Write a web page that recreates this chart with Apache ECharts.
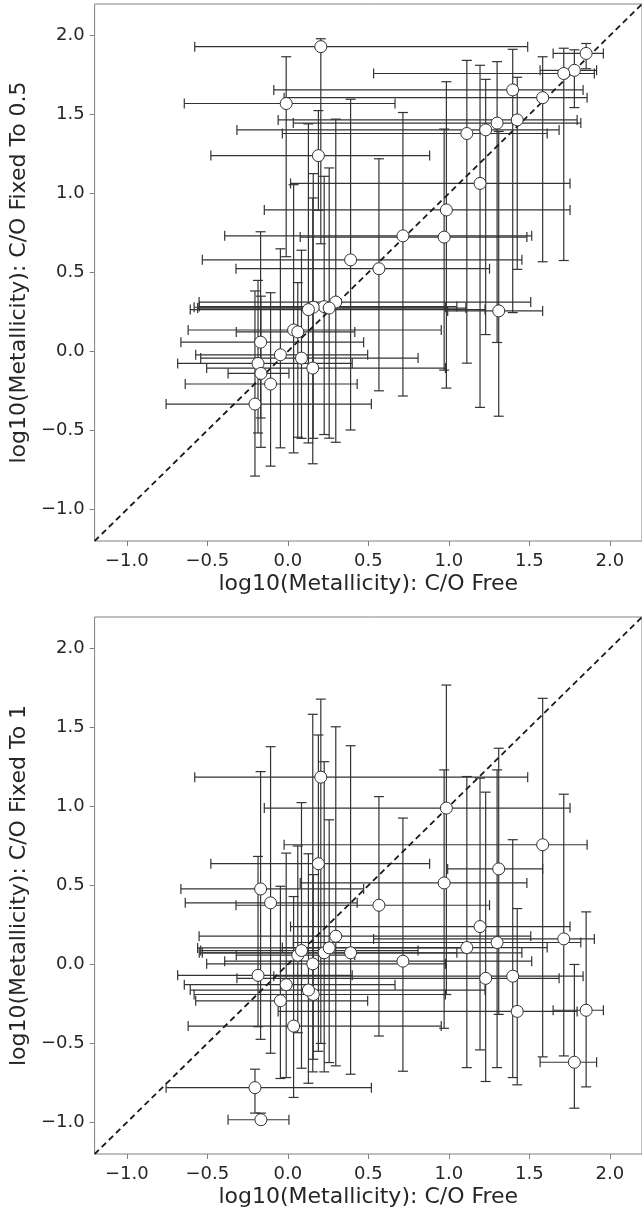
<!DOCTYPE html>
<html>
<head>
<meta charset="utf-8">
<script src="https://cdn.jsdelivr.net/npm/echarts@6/dist/echarts.min.js"></script>
<style>
  html, body { margin: 0; padding: 0; background: #ffffff; }
  #chart { width: 642px; height: 1216px; }
</style>
</head>
<body>
<div id="chart"></div>
<script>
// ---------- data ----------
// x: log10(Metallicity) with C/O free, with lower / upper ends of the error bar
const xFree   = [0.205, -0.01, 0.19, 0.39, 1.853, 1.78, 1.714, 1.397, 1.583, 1.425, 1.30, 1.229, 1.112, 1.194, 0.985, 0.715, 0.971, 0.566, 0.298, 0.226, 0.257, 0.158, 0.128, 0.036, 0.062, -0.169, -0.046, 0.085, -0.185, 0.155, -0.167, -0.107, -0.204, 1.31];
const xFreeLo = [-0.578, -0.643, -0.478, -0.531, 1.648, 1.567, 0.533, -0.087, -0.023, -0.06, 0.034, -0.316, -0.034, 0.017, -0.146, -0.392, 0.077, -0.322, -0.551, -0.55, -0.56, -0.582, -0.606, -0.619, -0.32, -0.664, -0.572, -0.541, -0.684, -0.504, -0.371, -0.637, -0.756, 0.993];
const xFreeHi = [1.49, 0.666, 0.881, 1.454, 1.96, 1.918, 1.904, 1.834, 1.859, 1.797, 1.82, 1.685, 1.611, 1.753, 1.753, 1.515, 1.485, 1.253, 1.509, 1.05, 1.106, 0.979, 1.225, 0.953, 0.416, 0.471, 0.496, 0.809, 0.40, 0.979, 0.007, 0.431, 0.519, 1.583];

// y (top panel): C/O fixed to 0.5
const yHalf   = [1.93, 1.57, 1.24, 0.58, 1.887, 1.78, 1.76, 1.656, 1.607, 1.466, 1.446, 1.403, 1.38, 1.064, 0.896, 0.732, 0.724, 0.524, 0.313, 0.284, 0.275, 0.28, 0.265, 0.136, 0.124, 0.059, -0.021, -0.042, -0.076, -0.105, -0.139, -0.206, -0.333, 0.257];
const yHalfLo = [0.682, 0.6, 0.894, -0.497, 1.79, 1.544, 0.576, 0.246, 0.568, 0.52, 0.057, 0.107, -0.074, -0.354, -0.232, -0.282, -0.118, -0.249, -0.575, -0.526, -0.549, -0.55, -0.579, -0.642, -0.543, -0.421, -0.61, -0.55, -0.516, -0.711, -0.607, -0.726, -0.789, -0.41];
const yHalfHi = [1.98, 1.866, 1.525, 1.597, 1.95, 1.91, 1.92, 1.913, 1.866, 1.736, 1.835, 1.723, 1.843, 1.812, 1.708, 1.513, 1.408, 1.22, 1.471, 1.109, 1.162, 1.126, 1.441, 1.056, 0.436, 0.758, 0.65, 0.641, 0.45, 0.972, 0.35, 0.372, 0.383, 1.393];

// y (bottom panel): C/O fixed to 1
const yOne    = [1.186, -0.128, 0.638, 0.074, -0.29, -0.619, 0.162, -0.074, 0.758, -0.297, 0.139, -0.088, 0.107, 0.24, 0.99, 0.021, 0.516, 0.375, 0.179, 0.074, 0.105, -0.19, -0.162, -0.39, 0.059, 0.478, -0.23, 0.088, -0.069, 0.004, -0.983, 0.39, -0.78, 0.605];
const yOneLo  = [-0.5, -0.716, -0.55, -0.695, -0.775, -0.91, -0.579, -0.716, -0.585, -0.762, -0.653, -0.741, -0.653, -0.541, -0.19, -0.676, -0.404, -0.453, -0.642, -0.68, -0.621, -0.6, -0.752, -0.842, -0.432, -0.474, -0.722, -0.657, -0.394, -0.68, -1.0, -0.562, -0.941, -0.316];
const yOneHi  = [1.68, 0.705, 1.453, 1.385, 0.333, 0.0, 1.078, 0.79, 1.685, 0.354, 1.232, 1.091, 1.19, 1.18, 1.769, 0.927, 1.232, 1.063, 1.505, 1.284, 0.916, 0.569, 0.701, 0.43, 0.75, 1.221, 0.495, 1.025, 0.684, 1.584, -0.941, 1.379, -0.663, 1.369];

const tickValues = [-1.0, -0.5, 0.0, 0.5, 1.0, 1.5, 2.0];
const axisRange = [-1.2, 2.2];
const xTitle = 'log10(Metallicity): C/O Free';
const yTitles = ['log10(Metallicity): C/O Fixed To 0.5', 'log10(Metallicity): C/O Fixed To 1'];

// ---------- chart ----------
const FONT = 'DejaVu Sans';
const TXT = '#262626';
const FRAME = '#808080';
const ERR = '#333333';

function fmt(v) {
  return v.toFixed(1).replace('-', '\u2212');
}

function errData(yv, ylo, yhi) {
  return xFree.map((x, i) => [x, yv[i], xFreeLo[i], xFreeHi[i], ylo[i], yhi[i]]);
}

function renderErr(params, api) {
  const x = api.value(0), y = api.value(1);
  const xl = api.value(2), xh = api.value(3), yl = api.value(4), yh = api.value(5);
  const pL = api.coord([xl, y]), pR = api.coord([xh, y]);
  const pB = api.coord([x, yl]), pT = api.coord([x, yh]);
  const c = 5;
  const st = { stroke: ERR, lineWidth: 1.2 };
  const ln = (x1, y1, x2, y2) => ({ type: 'line', shape: { x1, y1, x2, y2 }, style: st });
  return {
    type: 'group',
    children: [
      ln(pL[0], pL[1], pR[0], pR[1]),
      ln(pL[0], pL[1] - c, pL[0], pL[1] + c),
      ln(pR[0], pR[1] - c, pR[0], pR[1] + c),
      ln(pB[0], pB[1], pT[0], pT[1]),
      ln(pB[0] - c, pB[1], pB[0] + c, pB[1]),
      ln(pT[0] - c, pT[1], pT[0] + c, pT[1])
    ]
  };
}

const gridTops = [4, 617];
const grids = gridTops.map(t => ({
  left: 91, top: t, width: 554, height: 537,
  show: true, borderColor: FRAME, borderWidth: 1, backgroundColor: 'transparent'
}));

function makeX(i) {
  return {
    type: 'value', gridIndex: i, min: axisRange[0], max: axisRange[1],
    name: xTitle, nameLocation: 'middle', nameGap: 32,
    nameTextStyle: { fontFamily: FONT, fontSize: 22, color: TXT },
    axisLine: { show: false, onZero: false },
    axisTick: { show: true, customValues: tickValues, length: 5, inside: false, lineStyle: { color: FRAME, width: 1 } },
    axisLabel: { show: true, customValues: tickValues, formatter: fmt, margin: 11, fontFamily: FONT, fontSize: 18, color: TXT },
    splitLine: { show: false }
  };
}
function makeY(i) {
  return {
    type: 'value', gridIndex: i, min: axisRange[0], max: axisRange[1],
    name: yTitles[i], nameLocation: 'middle', nameGap: 63, nameRotate: 90,
    nameTextStyle: { fontFamily: FONT, fontSize: 22, color: TXT },
    axisLine: { show: false, onZero: false },
    axisTick: { show: true, customValues: tickValues, length: 5, inside: false, lineStyle: { color: FRAME, width: 1 } },
    axisLabel: { show: true, customValues: tickValues, formatter: fmt, margin: 10, fontFamily: FONT, fontSize: 18, color: TXT },
    splitLine: { show: false }
  };
}

const series = [];
[[yHalf, yHalfLo, yHalfHi], [yOne, yOneLo, yOneHi]].forEach((ys, i) => {
  series.push({
    type: 'custom', xAxisIndex: i, yAxisIndex: i, z: 2,
    renderItem: renderErr, clip: true,
    encode: { x: [0, 2, 3], y: [1, 4, 5] },
    data: errData(ys[0], ys[1], ys[2]),
    silent: true, animation: false
  });
  series.push({
    type: 'line', xAxisIndex: i, yAxisIndex: i, z: 3,
    data: [[axisRange[0], axisRange[0]], [axisRange[1], axisRange[1]]],
    symbol: 'none', lineStyle: { color: '#1a1a1a', width: 1.8, type: [6, 4] },
    silent: true, animation: false
  });
  series.push({
    type: 'scatter', xAxisIndex: i, yAxisIndex: i, z: 4,
    data: xFree.map((x, k) => [x, ys[0][k]]),
    symbol: 'circle', symbolSize: 12,
    itemStyle: { color: '#ffffff', borderColor: '#333333', borderWidth: 1, opacity: 1 },
    silent: true, animation: false
  });
});

const chart = echarts.init(document.getElementById('chart'), null, { renderer: 'canvas' });
chart.setOption({
  animation: false,
  backgroundColor: '#ffffff',
  grid: grids,
  xAxis: [makeX(0), makeX(1)],
  yAxis: [makeY(0), makeY(1)],
  series: series
});
</script>
</body>
</html>
